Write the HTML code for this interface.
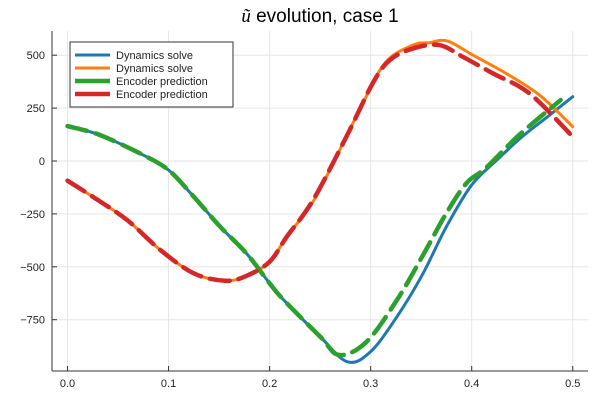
<!DOCTYPE html>
<html><head><meta charset="utf-8"><style>
body{margin:0;background:#fff}
svg{display:block;font-family:"Liberation Sans","DejaVu Sans",sans-serif}
</style></head><body>
<svg id="c" width="600" height="400">
<text x="320" y="22" font-size="19" text-anchor="middle"><tspan font-family="Liberation Serif" font-style="italic">ũ</tspan> evolution, case 1</text>
<g id="grid"></g><g id="axes"></g><g id="series"></g>
<g>
<rect x="70" y="42" width="163" height="65" fill="#fff" stroke="#333" stroke-width="1"/>
<g id="leg"></g></g>
</svg>
<script>
const xs=[0,0.032,0.075,0.1,0.125,0.151,0.177,0.2,0.214,0.25,0.277,0.3,0.326,0.351,0.375,0.4,0.425,0.45,0.475,0.5];
const blueVals=[165,123,28,-43,-169,-310,-436,-578,-657,-830,-949,-901,-736,-539,-310,-113,5,115,209,304];
const orangeX=[0,0.026,0.059,0.092,0.125,0.156,0.177,0.2,0.217,0.243,0.266,0.289,0.314,0.342,0.358,0.376,0.401,0.434,0.467,0.5];
const orangeVals=[-93,-172,-279,-421,-531,-566,-543,-476,-358,-192,20,241,462,548,559,567,501,414,312,162];
const greenX=[0,0.032,0.075,0.1,0.125,0.151,0.177,0.2,0.214,0.25,0.269,0.296,0.326,0.351,0.375,0.395,0.414,0.447,0.488];
const greenVals=[165,123,28,-43,-169,-310,-436,-578,-657,-830,-917,-854,-657,-452,-246,-104,-33,123,288];
const redX=[0,0.026,0.059,0.092,0.125,0.156,0.177,0.2,0.217,0.243,0.276,0.302,0.319,0.342,0.368,0.391,0.421,0.457,0.5];
const redVals=[-93,-172,-279,-421,-531,-566,-543,-476,-358,-185,115,367,477,532,548,493,414,320,115];
const xTicks=[0,0.1,0.2,0.3,0.4,0.5];
const yTicks=[500,250,0,-250,-500,-750];
const X=v=>67.5+v*1010.5,Y=v=>161-v*0.2116;
const L=52,R=588,T=31,B=371;
const ns="http://www.w3.org/2000/svg";
function mk(t,a,p){const e=document.createElementNS(ns,t);for(const k in a)e.setAttribute(k,a[k]);p.appendChild(e);return e;}
const g=document.getElementById('grid'),ax=document.getElementById('axes'),s=document.getElementById('series');
xTicks.forEach(t=>{const x=X(t);
const l=mk('line',{x1:x,x2:x,y1:T,y2:B,stroke:'#e6e6e6'},g);


mk('line',{x1:x,x2:x,y1:B,y2:B-5,stroke:'#333'},ax);
const tx=mk('text',{x:x,y:B+16,'font-size':11,'text-anchor':'middle',fill:'#222'},ax);tx.textContent=t.toFixed(1);

});
yTicks.forEach(t=>{const y=Y(t);
const l=mk('line',{x1:L,x2:R,y1:y,y2:y,stroke:'#e6e6e6'},g);


mk('line',{x1:L,x2:L+5,y1:y,y2:y,stroke:'#333'},ax);
const tx=mk('text',{x:L-7,y:y+4,'font-size':11,'text-anchor':'end',fill:'#222'},ax);tx.textContent=t<0?'\u2212'+(-t):t;

});
mk('line',{x1:L,x2:L,y1:T,y2:B,stroke:'#333'},ax);
mk('line',{x1:L,x2:R,y1:B,y2:B,stroke:'#333'},ax);
function path(xa,ya){const p=xa.map((x,i)=>[X(x),Y(ya[i])]);let d='M'+p[0];
for(let i=0;i<p.length-1;i++){const p0=p[i-1]||p[i],p1=p[i],p2=p[i+1],p3=p[i+2]||p2;
d+=' C'+(p1[0]+(p2[0]-p0[0])/6)+','+(p1[1]+(p2[1]-p0[1])/6)+' '+(p2[0]-(p3[0]-p1[0])/6)+','+(p2[1]-(p3[1]-p1[1])/6)+' '+p2;}return d;}
const specs=[[xs,blueVals,'#1f77b4',3,null,'dynamics-solve-blue'],[orangeX,orangeVals,'#ff7f0e',3,null,'dynamics-solve-orange'],[greenX,greenVals,'#2ca02c',4.5,'20 9','encoder-prediction-green'],[redX,redVals,'#d62728',4.5,'20 9','encoder-prediction-red']];
specs.forEach(sp=>{const a={d:path(sp[0],sp[1]),fill:'none',stroke:sp[2],'stroke-width':sp[3],'stroke-linejoin':'round','stroke-linecap':'round'};if(sp[4])a['stroke-dasharray']=sp[4];
const e=mk('path',a,s);

});
const lg=document.getElementById('leg');
const names=['Dynamics solve','Dynamics solve','Encoder prediction','Encoder prediction'];
specs.forEach((sp,i)=>{const y=55+i*13;
mk('line',{x1:75,x2:110,y1:y,y2:y,stroke:sp[2],'stroke-width':sp[3]},lg);
const t=mk('text',{x:116,y:y+4,'font-size':11,fill:'#222'},lg);t.textContent=names[i];

});
</script>
</body></html>
